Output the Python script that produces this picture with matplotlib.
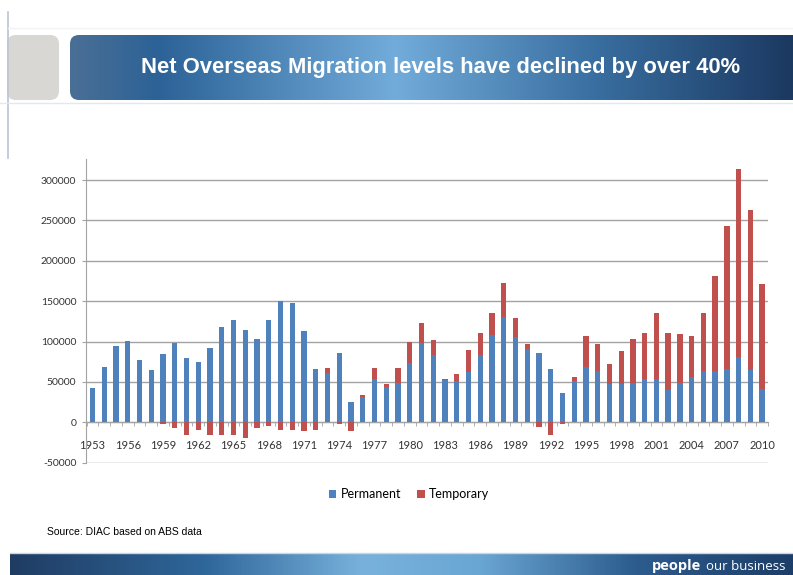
import numpy as np
import matplotlib
matplotlib.use('Agg')
import matplotlib.pyplot as plt
from matplotlib.colors import LinearSegmentedColormap
from matplotlib.patches import FancyBboxPatch

# data
years = list(range(1953, 2011))
permanent = [42300, 67900, 94700, 100800, 77400, 65000, 84000, 98800, 79800, 74500,
             91800, 118500, 126700, 114800, 103700, 126700, 150200, 148100, 113200, 66200,
             61300, 86400, 24700, 31700, 53100, 44000, 49000, 73700, 98800, 83500,
             51900, 50600, 62100, 83500, 107800, 130900, 105300, 90900, 86400, 66200,
             36600, 50600, 68700, 63800, 47700, 47700, 49000, 53100, 53100, 39500,
             49000, 55600, 63800, 63800, 66200, 81100, 65000, 41100]
temporary = [0, 0, 0, 0, 0, 0, -2500, -7000, -15200, -9900,
             -15200, -15200, -15200, -18900, -7000, -4500, -9900, -9900, -11100, -9900,
             6200, -2500, -11100, 2500, 14400, 3300, 18500, 26300, 23800, 19000,
             2000, 9100, 27200, 27200, 28000, 41500, 23900, 6600, -5800, -15200,
             -2500, 5000, 37900, 33700, 23900, 40000, 54700, 57600, 82700, 71200,
             60500, 51000, 72000, 117700, 176600, 232900, 198000, 129600]
yticks = [-50000, 0, 50000, 100000, 150000, 200000, 250000, 300000]
title = 'Net Overseas Migration levels have declined by over 40%'

W, H = 793, 575
fig = plt.figure(figsize=(W / 100, H / 100), dpi=100)

# slide decoration drawn in pixel coords
bg = fig.add_axes([0, 0, 1, 1], zorder=-1)
bg.set_xlim(0, W)
bg.set_ylim(H, 0)
bg.axis('off')

def gradient(x0, x1, y0, y1, stops, clip=None):
    cmap = LinearSegmentedColormap.from_list('g', stops)
    im = bg.imshow(np.linspace(0, 1, 256).reshape(1, -1), cmap=cmap, aspect='auto',
                   extent=(x0, x1, y1, y0), zorder=1)
    if clip is not None:
        im.set_clip_path(clip)

# thin vertical rule on the left
bg.plot([8, 8], [12, 158], color='#b9c4d4', lw=1.2)
bg.plot([8, W], [28, 28], color='#f1f3f5', lw=1)

# header: grey block + blue banner
grey = FancyBboxPatch((7, 35), 52, 65, boxstyle='round,pad=0,rounding_size=9',
                      fc='#d9d7d3', ec='none', zorder=1)
bg.add_patch(grey)
banner = FancyBboxPatch((70, 35), 740, 65, boxstyle='round,pad=0,rounding_size=9',
                        fc='none', ec='none', zorder=1)
bg.add_patch(banner)
gradient(70, 793, 35, 100,
         [(0, '#4a6f95'), (0.12, '#2c6297'), (0.45, '#72acda'), (0.72, '#3a70a2'), (1, '#1b3961')],
         clip=banner)
bg.plot([0, W], [103, 103], color='#e3e8ee', lw=1)
bg.text(441, 67, title, color='white', fontsize=15.8, fontweight='bold',
        family='Liberation Sans', ha='center', va='center', zorder=3)

# footer bar
gradient(10, 793, 553, 575,
         [(0, '#1f3c63'), (0.25, '#2f679b'), (0.45, '#78b2dc'), (0.6, '#6aa6d4'),
          (0.8, '#2c5c8e'), (1, '#1d3e68')])
bg.plot([10, W], [552.5, 552.5], color='#c9d5e2', lw=1)
bg.text(785, 566, 'our business', color='white', fontsize=9.5, family='Open Sans',
        ha='right', va='center', zorder=3)
bg.text(701, 566, 'people', color='white', fontsize=10.5, family='Open Sans',
        fontweight='bold', ha='right', va='center', zorder=3)

bg.text(47, 532, 'Source: DIAC based on ABS data', fontsize=7.5, family='Liberation Sans',
        ha='left', va='center')

# chart
ax = fig.add_axes([86 / W, 1 - 462.7 / H, (768 - 86) / W, (462.7 - 159) / H])
ax.set_facecolor('none')

x = np.arange(len(years))
perm = np.array(permanent)
temp = np.array(temporary)
bottom = np.where(temp > 0, perm, 0)
b1 = ax.bar(x, perm, width=0.45, color='#4f81bd', zorder=3, label='Permanent')
b2 = ax.bar(x, temp, width=0.45, bottom=bottom, color='#c0504d', zorder=3, label='Temporary')

ax.set_xlim(-0.55, len(years) - 0.5)
ax.set_ylim(-50000, 326000)
ax.set_yticks(yticks)
ax.set_yticklabels([str(v) for v in yticks])
ax.grid(axis='y', color='#a3a3a3', lw=1, zorder=0)

ax.set_xticks(x[::3])
ax.set_xticklabels([str(y) for y in years[::3]])
ax.set_xticks(np.arange(len(years) + 1) - 0.5, minor=True)
ax.spines['bottom'].set_position(('data', 0))
ax.spines['bottom'].set_color('#a3a3a3')
ax.spines['left'].set_color('#a3a3a3')
ax.spines['top'].set_visible(False)
ax.spines['right'].set_visible(False)
ax.tick_params(axis='x', which='major', length=0, pad=12.5, labelsize=8, labelcolor='#333333')
ax.tick_params(axis='x', which='minor', length=3, color='#a3a3a3', direction='out')
ax.tick_params(axis='y', length=3, pad=4, color='#a3a3a3', labelsize=7.5, labelcolor='#333333')
for lab in ax.get_xticklabels() + ax.get_yticklabels():
    lab.set_family('Lato')

fig.legend(handles=[b1, b2], loc='center', bbox_to_anchor=(409 / W, 1 - 494 / H), ncol=2,
           frameon=False, handlelength=0.6, handleheight=0.6, handletextpad=0.35,
           columnspacing=1.3, prop={'family': 'Lato', 'size': 9})

fig.savefig('out.png', dpi=100)
